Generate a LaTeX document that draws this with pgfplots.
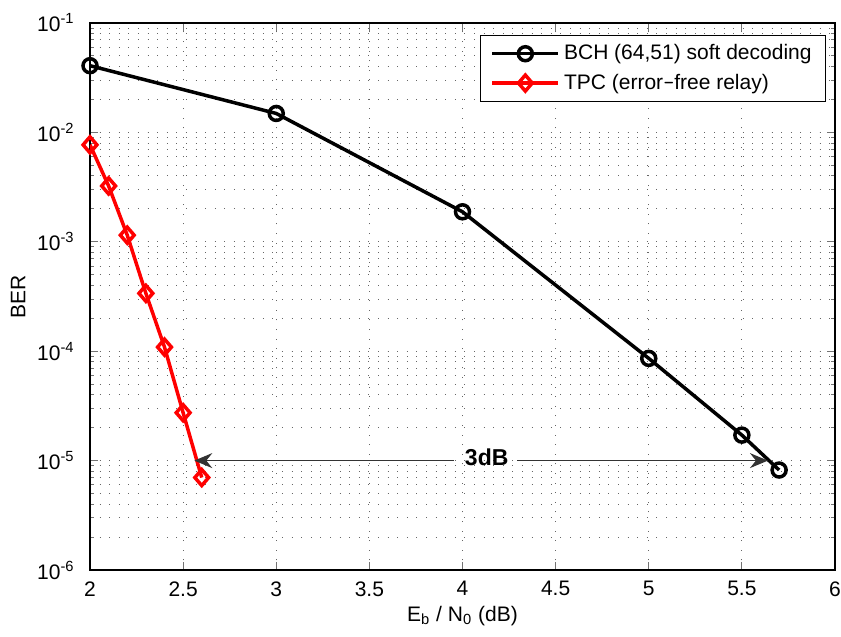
\documentclass[border=0pt]{standalone}
\usepackage{fontspec}
\setmainfont{Liberation Sans}
\usepackage{pgfplots}
\pgfplotsset{compat=1.18}
\usetikzlibrary{arrows.meta}
\begin{document}
\fontsize{10.5}{12.6}\selectfont
\begin{tikzpicture}
\begin{axis}[
  scale only axis, width=372.5pt, height=273.5pt,
  xmin=2, xmax=6, ymode=log, ymin=1e-6, ymax=1e-1,
  xtick={2,2.5,3,3.5,4,4.5,5,5.5,6},
  xticklabels={2,2.5,3,3.5,4,4.5,5,5.5,6},
  minor x tick num=0,
  ytick={1e-6,1e-5,1e-4,1e-3,1e-2,1e-1},
  yticklabels={10\textsuperscript{-6},10\textsuperscript{-5},10\textsuperscript{-4},10\textsuperscript{-3},10\textsuperscript{-2},10\textsuperscript{-1}},
  yticklabel style={xshift=-4pt},
  xticklabel style={yshift=-2pt},
  grid=both,
  major grid style={black!60, line width=0.5pt, dash pattern=on 0.5pt off 4.3pt},
  minor grid style={black!60, line width=0.5pt, dash pattern=on 0.5pt off 4.3pt},
  tick align=inside, major tick length=4pt, minor tick length=2.2pt,
  tick style={black!55, line width=0.5pt},
  axis line style={black, line width=0.6pt},
  clip mode=individual,
  xlabel={E\textsubscript{b} / N\textsubscript{0} (dB)},
  ylabel={BER},
  xlabel style={at={(axis description cs:0.5,-0.084)}, anchor=center},
  ylabel style={at={(axis description cs:-0.0966,0.5)}, anchor=center},
  legend style={at={(axis description cs:0.988,0.978)}, anchor=north east,
    draw=black, line width=0.5pt, inner xsep=5pt, inner ysep=2.5pt,
    row sep=1.5pt, cells={anchor=west}},
  legend image code/.code={\draw[mark repeat=2,mark phase=2] plot coordinates {(0pt,0pt) (16.5pt,0pt) (33pt,0pt)};},
]
\addplot[black, line width=1.75pt, mark=o, mark size=3.5pt, mark options={line width=1.75pt}]
  coordinates {(2,0.0407) (3,0.0149) (4,0.00188) (5,8.6e-5) (5.5,1.71e-5) (5.7,8.2e-6)};
\addlegendentry{BCH (64,51) soft decoding}
\addplot[red, line width=1.75pt, mark=diamond, mark size=4pt, mark options={line width=1.75pt, xscale=1.15}]
  coordinates {(2,7.7e-3) (2.1,3.24e-3) (2.2,1.15e-3) (2.3,3.38e-4) (2.4,1.09e-4) (2.5,2.74e-5) (2.6,7.0e-6)};
\addlegendentry{TPC (error\texttt{-}free relay)}
\draw[-{Stealth[length=9pt,width=7.5pt,inset=3pt]}, line width=0.7pt, black!80] (axis cs:3.954,1e-5) -- (axis cs:2.56,1e-5);
\draw[-{Stealth[length=9pt,width=7.5pt,inset=3pt]}, line width=0.7pt, black!80] (axis cs:4.293,1e-5) -- (axis cs:5.64,1e-5);
\node[font=\fontsize{11.5}{13}\selectfont\bfseries, inner sep=0pt] at (axis cs:4.13,1.07e-5) {3dB};
\end{axis}
\pgfresetboundingbox
\path ([shift={(-45pt,-33.5pt)}]current axis.south west) rectangle ([shift={(3pt,11.5pt)}]current axis.north east);
\end{tikzpicture}
\end{document}
